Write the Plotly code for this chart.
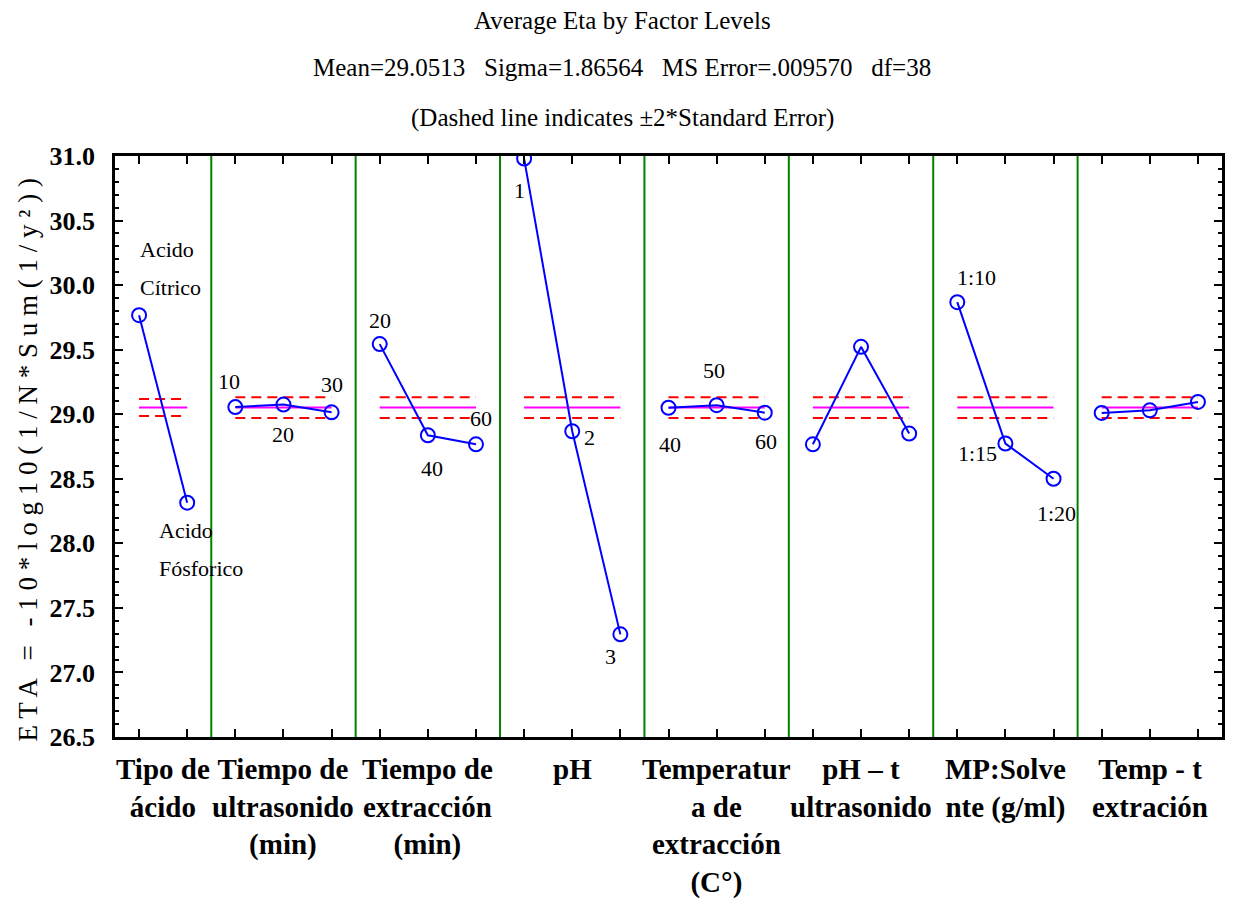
import plotly.graph_objects as go

# ---------------- data ----------------
factor_names = ["Tipo de<br>ácido", "Tiempo de<br>ultrasonido<br>(min)",
                "Tiempo de<br>extracción<br>(min)", "pH",
                "Temperatur<br>a de<br>extracción<br>(C°)", "pH – t<br>ultrasonido",
                "MP:Solve<br>nte (g/ml)", "Temp - t<br>extración"]

level_labels = [["Acido<br>Cítrico", "Acido<br>Fósforico"],
                ["10", "20", "30"],
                ["20", "40", "60"],
                ["1", "2", "3"],
                ["40", "50", "60"],
                ["", "", ""],
                ["1:10", "1:15", "1:20"],
                ["", "", ""]]

eta_tipo_acido = [29.767, 28.315]
eta_t_ultrasonido = [29.055, 29.075, 29.015]
eta_t_extraccion = [29.543, 28.837, 28.767]
eta_ph = [30.98, 28.868, 27.295]
eta_temperatura = [29.05, 29.07, 29.012]
eta_ph_t_ultrasonido = [28.767, 29.522, 28.85]
eta_mp_solvente = [29.868, 28.773, 28.50]
eta_temp_t_extraccion = [29.01, 29.03, 29.095]

series = [eta_tipo_acido, eta_t_ultrasonido, eta_t_extraccion, eta_ph,
          eta_temperatura, eta_ph_t_ultrasonido, eta_mp_solvente, eta_temp_t_extraccion]

grand_mean = 29.0513
two_se = [0.066, 0.08, 0.08, 0.08, 0.08, 0.08, 0.08, 0.08]

y_ticks = [26.5, 27.0, 27.5, 28.0, 28.5, 29.0, 29.5, 30.0, 30.5, 31.0]

# ---------------- style (label offsets in px: xshift, yshift, xanchor) ----------------
label_style = [
    [[(-1, 66, "left"), (-1, 28, "left")], [(-30, -28, "left"), (-30, -66, "left")]],
    [[(-6, 26, "center")], [(0, -30, "center")], [(0, 28, "center")]],
    [[(0, 24, "center")], [(4, -33, "center")], [(5, 26, "center")]],
    [[(-5, -32, "center")], [(17, -6, "center")], [(-10, -22, "center")]],
    [[(1, -37, "center")], [(-3, 35, "center")], [(1, -29, "center")]],
    [[], [], []],
    [[(19, 25, "center")], [(-28, -10, "center")], [(3, -35, "center")]],
    [[], [], []],
]

SERIF = "Liberation Serif, Times New Roman, serif"

fig = go.Figure()

positions = []
pos = 1
for vals in series:
    positions.append(list(range(pos, pos + len(vals))))
    pos += len(vals)
xmin, xmax = 0.5, pos - 0.5
boundaries = [p[-1] + 0.5 for p in positions[:-1]]

annotations = []
for k, (xs, vals) in enumerate(zip(positions, series)):
    xr = [xs[0], xs[-1]]
    for sgn in (1, -1):
        fig.add_trace(go.Scatter(x=xr, y=[grand_mean + sgn * two_se[k]] * 2, mode="lines",
                                 line=dict(color="#FF0000", width=2, dash="10px,6px"),
                                 showlegend=False, hoverinfo="skip"))
    fig.add_trace(go.Scatter(x=xr, y=[grand_mean] * 2, mode="lines",
                             line=dict(color="#FF00FF", width=2),
                             showlegend=False, hoverinfo="skip"))
    fig.add_trace(go.Scatter(x=xs, y=vals, mode="lines+markers",
                             line=dict(color="#0000FF", width=2),
                             marker=dict(symbol="circle-open", size=14,
                                         line=dict(color="#0000FF", width=2)),
                             showlegend=False))
    for j, (x, v) in enumerate(zip(xs, vals)):
        lines = level_labels[k][j].split("<br>") if level_labels[k][j] else []
        for li, txt in enumerate(lines):
            xsft, ysft, anc = label_style[k][j][li]
            annotations.append(dict(x=x, y=v, xref="x", yref="y", text=txt, showarrow=False,
                                    xanchor=anc, yanchor="middle", xshift=xsft, yshift=ysft,
                                    font=dict(family=SERIF, size=22, color="black")))

for k, xs in enumerate(positions):
    cx = (xs[0] - 0.5 + xs[-1] + 0.5) / 2
    annotations.append(dict(x=cx, y=0, xref="x", yref="paper", text="<b>" + factor_names[k] + "</b>",
                            showarrow=False, xanchor="center", yanchor="top", yshift=-14,
                            align="center", font=dict(family=SERIF, size=29, color="black")))

title_lines = ["Average Eta by Factor Levels",
               "Mean=29.0513   Sigma=1.86564   MS Error=.009570   df=38",
               "(Dashed line indicates ±2*Standard Error)"]
title_y = [1.234, 1.152, 1.066]
for t, ty in zip(title_lines, title_y):
    annotations.append(dict(x=0.458, y=ty, xref="paper", yref="paper", text=t, showarrow=False,
                            xanchor="center", yanchor="middle",
                            font=dict(family=SERIF, size=25, color="black")))

ytitle = "ETA = -10*log10(1/N*Sum(1/y²))"
ytitle_spaced = " ".join(ytitle.replace(" ", "\u2009"))
annotations.append(dict(x=0, y=0.476, xref="paper", yref="paper", text=ytitle_spaced,
                        showarrow=False, textangle=-90, xanchor="center", yanchor="middle",
                        xshift=-87, font=dict(family=SERIF, size=27, color="black")))

shapes = [dict(type="line", xref="x", yref="paper", x0=b, x1=b, y0=0, y1=1,
               line=dict(color="#008000", width=2), layer="below") for b in boundaries]

all_pos = [p for xs in positions for p in xs]

fig.update_layout(
    width=1244, height=899,
    margin=dict(l=115, r=22, t=156, b=162),
    paper_bgcolor="white", plot_bgcolor="white",
    annotations=annotations, shapes=shapes, showlegend=False,
    xaxis=dict(range=[xmin, xmax], tickvals=all_pos, ticktext=[""] * len(all_pos),
               ticks="inside", ticklen=8, tickwidth=2, tickcolor="black",
               showline=True, linecolor="black", linewidth=2.5, mirror="ticks",
               showgrid=False, zeroline=False),
    yaxis=dict(range=[26.5, 31.0], tickvals=y_ticks, ticktext=[f"{v:.1f}" for v in y_ticks],
               ticks="inside", ticklen=8, tickwidth=2, tickcolor="black",
               minor=dict(ticks="inside", dtick=0.1, ticklen=4, tickwidth=1.5, tickcolor="black"),
               showline=True, linecolor="black", linewidth=2.5, mirror="ticks",
               showgrid=False, zeroline=False, ticklabelstandoff=12,
               tickfont=dict(family=SERIF, size=26, color="black", weight="bold")),
)

fig.write_html("out.html")
